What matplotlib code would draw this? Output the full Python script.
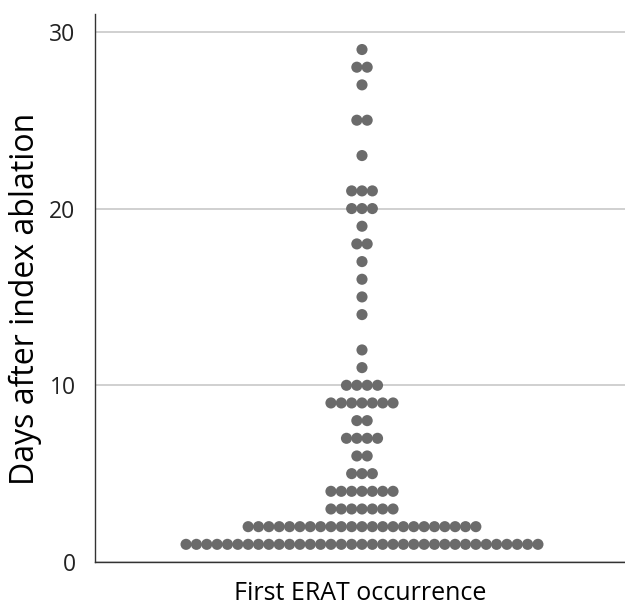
import matplotlib
matplotlib.use("Agg")
import matplotlib.pyplot as plt
import numpy as np

# days after index ablation -> number of patients with first ERAT that day
days = [1, 2, 3, 4, 5, 6, 7, 8, 9, 10, 11, 12, 14, 15, 16, 17, 18, 19, 20, 21, 23, 25, 27, 28, 29]
counts = [35, 23, 7, 7, 3, 2, 4, 2, 7, 4, 1, 1, 1, 1, 1, 1, 2, 1, 3, 3, 1, 2, 1, 2, 1]

plt.rcParams['font.family'] = ['Open Sans', 'DejaVu Sans']

fig = plt.figure(figsize=(6.25, 6.06), dpi=100)
ax = fig.add_axes([0.152, 0.0726, 0.848, 0.904])

# dot plot: stack equal values side by side, centred on the category
step = 10.35
xs, ys = [], []
for d, n in zip(days, counts):
    offs = (np.arange(n) - (n - 1) / 2) * step
    xs.extend(offs)
    ys.extend([d] * n)

ax.scatter(xs, ys, s=64, color='#6b6b6b', edgecolors='none', zorder=3)

ax.set_xlim(-267, 263)
ax.set_ylim(0, 31)
ax.set_yticks([0, 10, 20, 30])
ax.set_xticks([])
ax.yaxis.grid(True, color='#c8c8c8', linewidth=1.2)
ax.set_axisbelow(True)
ax.tick_params(axis='y', length=0, pad=14, labelsize=16.5, labelcolor='#222222')

for side in ['top', 'right']:
    ax.spines[side].set_visible(False)
for side in ['left', 'bottom']:
    ax.spines[side].set_color('#333333')
    ax.spines[side].set_linewidth(1.0)

ax.set_ylabel('Days after index ablation', fontsize=23, labelpad=1)
ax.yaxis.set_label_coords(-0.1, 0.48)
ax.set_xlabel('First ERAT occurrence', fontsize=18, labelpad=14)

fig.savefig('out.png', dpi=100)
plt.close('all')
